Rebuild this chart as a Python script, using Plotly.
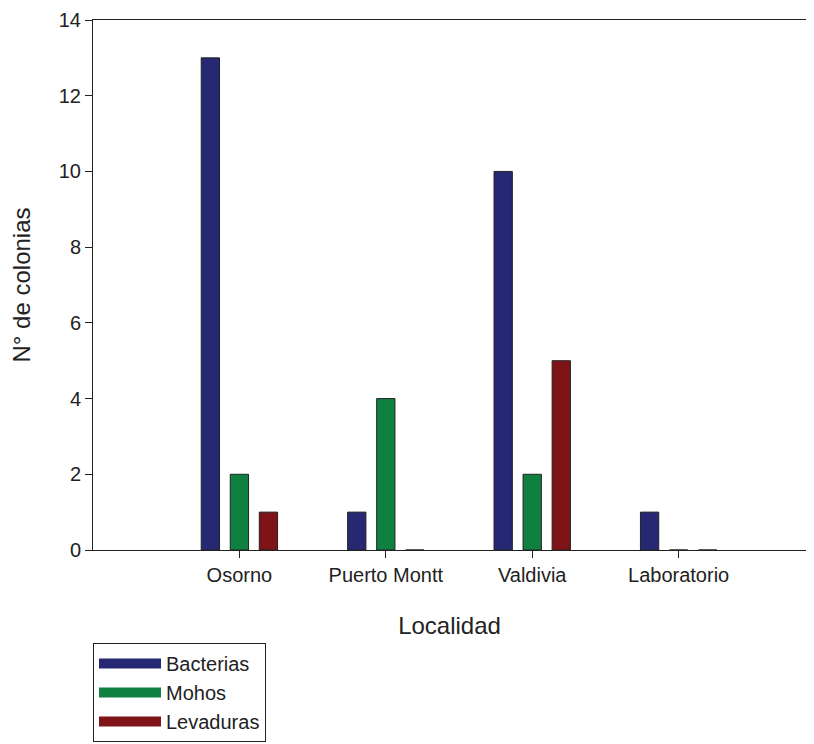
import plotly.graph_objects as go

localidades = ["Osorno", "Puerto Montt", "Valdivia", "Laboratorio"]
bacterias = [13, 1, 10, 1]
mohos = [2, 4, 2, 0]
levaduras = [1, 0, 5, 0]
y_ticks = [0, 2, 4, 6, 8, 10, 12, 14]

series = [
    ("Bacterias", bacterias, "#262873"),
    ("Mohos", mohos, "#0f8040"),
    ("Levaduras", levaduras, "#7e1418"),
]

fig = go.Figure()
for name, vals, color in series:
    fig.add_trace(go.Bar(
        x=localidades, y=vals, name=name, legendgroup=name, showlegend=False,
        marker=dict(color=color, line=dict(color="#222222", width=1)),
    ))
# legend swatches (wide rectangles, as in the reference legend)
for name, vals, color in series:
    fig.add_trace(go.Scatter(
        x=[None], y=[None], name=name, legendgroup=name, mode="lines",
        line=dict(color=color, width=16), showlegend=True, hoverinfo="skip",
    ))

font_family = "Liberation Sans, Arial, sans-serif"
fig.update_layout(
    width=806, height=770,
    margin=dict(l=85, r=8, t=12, b=228),
    paper_bgcolor="white", plot_bgcolor="white",
    barmode="group", bargap=0.405, bargroupgap=0.37,
    font=dict(family=font_family, size=20, color="#222222"),
    showlegend=True,
    legend=dict(
        x=0, y=-0.1755, xanchor="left", yanchor="top",
        bordercolor="#222222", borderwidth=1,
        font=dict(size=20), tracegroupgap=0, itemwidth=62,
        traceorder="normal",
    ),
    xaxis=dict(
        type="category", range=[-1.0, 3.87], automargin=False,
        showline=True, linecolor="#222222", linewidth=1, mirror=True,
        ticks="outside", ticklen=7, tickcolor="#222222",
        showgrid=False, zeroline=False,
        tickfont=dict(size=20),
        title=dict(text="Localidad", font=dict(size=24), standoff=32),
    ),
    yaxis=dict(
        range=[0, 14], tickvals=y_ticks, automargin=False,
        showline=True, linecolor="#222222", linewidth=1,
        ticks="outside", ticklen=7, tickcolor="#222222",
        showgrid=False, zeroline=False,
        tickfont=dict(size=20),
        title=dict(text="N° de colonias", font=dict(size=24), standoff=22),
    ),
)

fig.write_html("out.html")
